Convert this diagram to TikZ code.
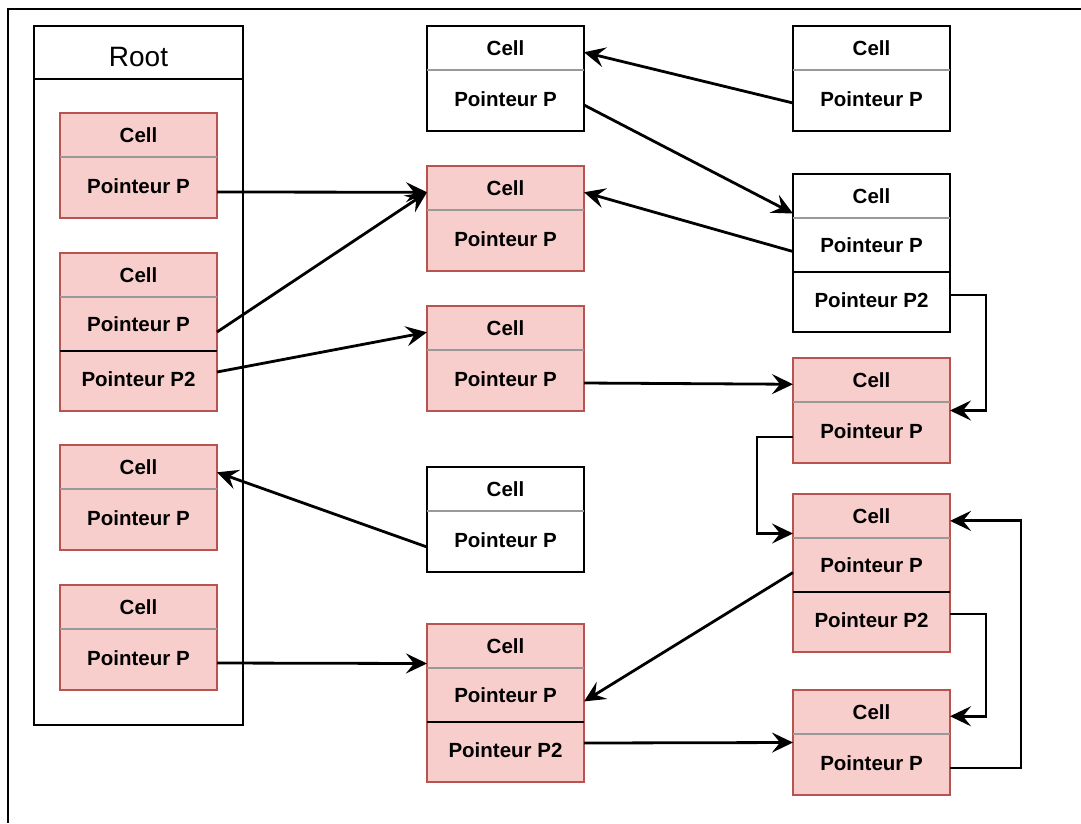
\documentclass[tikz,border=0pt]{standalone}
\usepackage{fontspec}
\setmainfont{Liberation Sans}
\usetikzlibrary{arrows.meta,calc}
\definecolor{pinkfill}{HTML}{F8CECC}
\definecolor{pinkdraw}{HTML}{B85450}
\tikzset{
  pinkcell/.style={rectangle, draw=pinkdraw, fill=pinkfill, line width=1.8pt, minimum width=157pt, inner sep=0pt, outer sep=0pt, anchor=north west},
  whitecell/.style={rectangle, draw=black, fill=white, line width=1.8pt, minimum width=157pt, inner sep=0pt, outer sep=0pt, anchor=north west},
  rowtxt/.style={inner sep=0pt, outer sep=0pt, minimum width=157pt, font=\bfseries\fontsize{20.5}{24}\selectfont, anchor=north},
  sepgray/.style={draw=black!40, line width=1.4pt},
  sepblack/.style={draw=black, line width=1.4pt},
  link/.style={draw=black, line width=2.8pt, -{Stealth[length=21pt,width=20pt,inset=8pt]}},
  frameline/.style={draw=black, line width=2.2pt},
}
\newcommand\twocell[4]{%
  \node[#2, minimum height=105pt] (#1) at (#3,#4) {};
  \node[rowtxt, minimum height=44pt] (#1c) at (#1.north) {Cell};
  \node[rowtxt, minimum height=58pt] (#1p) at (#1c.south) {Pointeur P};
  \draw[sepgray] (#1c.south west) -- (#1c.south east);
}
\newcommand\threecell[4]{%
  \node[#2, minimum height=158pt] (#1) at (#3,#4) {};
  \node[rowtxt, minimum height=44pt] (#1c) at (#1.north) {Cell};
  \node[rowtxt, minimum height=54pt] (#1p) at (#1c.south) {Pointeur P};
  \node[rowtxt, minimum height=56pt] (#1q) at (#1p.south) {Pointeur P2};
  \draw[sepgray] (#1c.south west) -- (#1c.south east);
  \draw[sepblack] (#1p.south west) -- (#1p.south east);
}
\begin{document}
\begin{tikzpicture}[x=1pt,y=-1pt]
\useasboundingbox (0,0) rectangle (1081,823);
\draw[frameline] (1081,9) -- (8,9) -- (8,823);

% Root container
\node[rectangle, draw=black, line width=1.8pt, minimum width=209pt, minimum height=699pt, inner sep=0pt, outer sep=0pt, anchor=north west] (root) at (34,26) {};
\node[inner sep=0pt, font=\fontsize{28}{32}\selectfont] (roottitle) at ($(root.north)+(0,31)$) {Root};
\draw[line width=1.8pt] ($(root.north west)+(0,53)$) -- ($(root.north east)+(0,53)$);

% left column
\twocell{L1}{pinkcell}{60}{113}
\threecell{L2}{pinkcell}{60}{253}
\twocell{L3}{pinkcell}{60}{445}
\twocell{L4}{pinkcell}{60}{585}

% middle column
\twocell{M1}{whitecell}{427}{26}
\twocell{M2}{pinkcell}{427}{166}
\twocell{M3}{pinkcell}{427}{306}
\twocell{M4}{whitecell}{427}{467}
\threecell{M5}{pinkcell}{427}{624}

% right column
\twocell{R1}{whitecell}{793}{26}
\threecell{R2}{whitecell}{793}{174}
\twocell{R3}{pinkcell}{793}{358}
\threecell{R4}{pinkcell}{793}{494}
\twocell{R5}{pinkcell}{793}{690}

% connectors
\draw[link] ([yshift=-6pt]L1p.east) -- ($(M2.north west)!0.25!(M2.south west)$);
\draw[link] ([yshift=-8pt]L2p.east) -- ($(M2.north west)!0.25!(M2.south west)$);
\draw[link] ([yshift=7pt]L2q.east) -- ($(M3.north west)!0.25!(M3.south west)$);
\draw[link] ([yshift=-7pt]M4p.west) -- ($(L3.north east)!0.26!(L3.south east)$);
\draw[link] ([yshift=-5pt]L4p.east) -- ($(M5.north west)!0.25!(M5.south west)$);
\draw[link] ([yshift=-4pt]R1p.west) -- ($(M1.north east)!0.25!(M1.south east)$);
\draw[link] ([yshift=-6pt]M1p.east) -- ($(R2.north west)!0.25!(R2.south west)$);
\draw[link] ([yshift=-6.5pt]R2p.west) -- ($(M2.north east)!0.25!(M2.south east)$);
\draw[link] ([yshift=5pt]R2q.east) -- ++(36,0) |- ($(R3.north east)!0.5!(R3.south east)$);
\draw[link] ([yshift=-4pt]M3p.east) -- ($(R3.north west)!0.25!(R3.south west)$);
\draw[link] ([yshift=-6pt]R3p.west) -- ++(-36,0) |- ($(R4.north west)!0.25!(R4.south west)$);
\draw[link] ([yshift=-7.5pt]R4p.west) -- ($(M5.north east)!0.49!(M5.south east)$);
\draw[link] ([yshift=6pt]R4q.east) -- ++(36,0) |- ($(R5.north east)!0.25!(R5.south east)$);
\draw[link] ([yshift=7pt]M5q.east) -- ($(R5.north west)!0.5!(R5.south west)$);
\draw[link] ([yshift=-5pt]R5p.east) -- ++(71,0) |- ($(R4.north east)!0.17!(R4.south east)$);
\end{tikzpicture}
\end{document}
